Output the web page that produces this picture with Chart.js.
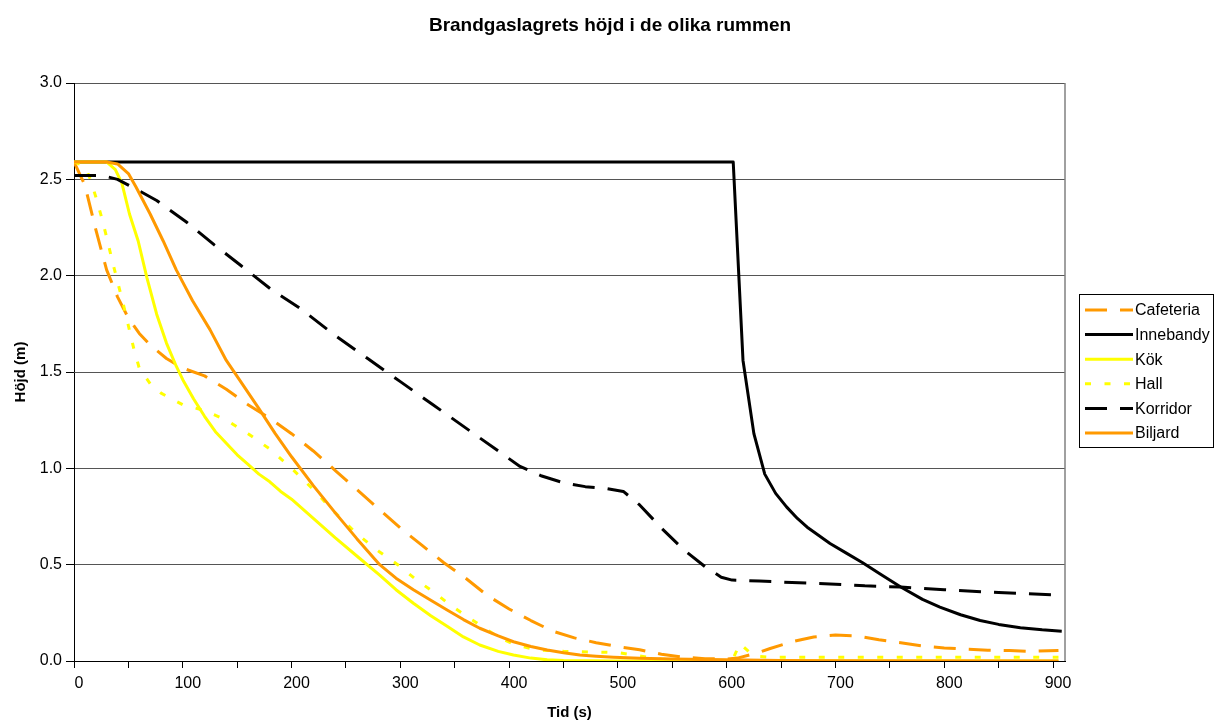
<!DOCTYPE html>
<html>
<head>
<meta charset="utf-8">
<script src="https://cdn.jsdelivr.net/npm/chart.js@4.4.1/dist/chart.umd.min.js"></script>
<style>
html, body { margin: 0; padding: 0; background: #fff; }
#wrap { width: 1217px; height: 722px; }
</style>
</head>
<body>
<div id="wrap"><canvas id="chart" width="1217" height="722"></canvas></div>
<script>
const FONT = "'Liberation Sans', Arial, sans-serif";

// time (s) and smoke layer height (m) per room
const cafeteriaT = [0, 10, 20, 30, 40, 50, 60, 70, 85, 100, 120, 140, 160, 180, 200, 220, 240, 260, 280, 300, 320, 340, 360, 380, 400, 420, 440, 460, 480, 500, 520, 540, 560, 580, 600, 610, 620, 630, 640, 660, 680, 700, 720, 740, 760, 780, 800, 820, 840, 860, 880, 905];
const cafeteriaH = [2.59, 2.47, 2.24, 2.03, 1.89, 1.78, 1.70, 1.64, 1.57, 1.52, 1.48, 1.41, 1.33, 1.26, 1.18, 1.09, 0.99, 0.89, 0.79, 0.69, 0.60, 0.51, 0.43, 0.34, 0.27, 0.21, 0.155, 0.12, 0.095, 0.075, 0.058, 0.035, 0.02, 0.012, 0.01, 0.015, 0.03, 0.045, 0.065, 0.10, 0.125, 0.135, 0.13, 0.11, 0.095, 0.078, 0.068, 0.062, 0.056, 0.054, 0.05, 0.055];

const innebandyT = [0, 600, 606, 615, 625, 635, 645, 655, 665, 675, 685, 695, 710, 725, 740, 760, 780, 796, 815, 833, 850, 870, 890, 908];
const innebandyH = [2.59, 2.59, 2.59, 1.56, 1.18, 0.97, 0.87, 0.80, 0.74, 0.69, 0.65, 0.61, 0.56, 0.51, 0.455, 0.384, 0.32, 0.28, 0.24, 0.21, 0.19, 0.173, 0.162, 0.155];

const kokT = [0, 30, 38, 44, 51, 59, 67, 76, 85, 94, 100, 110, 120, 130, 140, 150, 160, 170, 180, 190, 200, 220, 240, 260, 281, 296, 312, 328, 343, 358, 373, 390, 404, 420, 435, 450, 500, 905];
const kokH = [2.59, 2.59, 2.55, 2.48, 2.32, 2.18, 1.99, 1.80, 1.65, 1.53, 1.46, 1.36, 1.27, 1.19, 1.13, 1.07, 1.02, 0.97, 0.93, 0.88, 0.84, 0.74, 0.64, 0.545, 0.446, 0.37, 0.30, 0.235, 0.18, 0.125, 0.083, 0.05, 0.031, 0.015, 0.006, 0.002, 0, 0];

const hallT = [0, 10, 15, 20, 25, 30, 35, 40, 45, 50, 55, 60, 70, 80, 90, 100, 120, 140, 160, 180, 200, 220, 240, 260, 280, 300, 315, 330, 345, 360, 375, 390, 405, 425, 450, 480, 500, 515, 540, 560, 605, 612, 625, 640, 905];
const hallH = [2.59, 2.57, 2.5, 2.41, 2.31, 2.2, 2.08, 1.97, 1.86, 1.74, 1.62, 1.52, 1.44, 1.39, 1.36, 1.33, 1.30, 1.25, 1.18, 1.10, 1.00, 0.89, 0.77, 0.66, 0.57, 0.49, 0.42, 0.36, 0.295, 0.235, 0.18, 0.125, 0.085, 0.058, 0.05, 0.046, 0.044, 0.03, 0.01, 0.003, 0, 0.09, 0.025, 0.02, 0.02];

const korridorT = [0, 26, 40, 50, 60, 76, 103, 129, 154, 181, 208, 240, 270, 300, 330, 360, 390, 410, 430, 450, 470, 490, 505, 520, 540, 560, 580, 595, 605, 630, 660, 695, 727, 760, 800, 850, 905];
const korridorH = [2.52, 2.52, 2.5, 2.47, 2.44, 2.39, 2.28, 2.16, 2.05, 1.93, 1.83, 1.69, 1.57, 1.45, 1.33, 1.21, 1.09, 1.01, 0.96, 0.925, 0.905, 0.895, 0.88, 0.81, 0.69, 0.58, 0.49, 0.435, 0.42, 0.415, 0.407, 0.40, 0.39, 0.384, 0.37, 0.355, 0.342];

const biljardT = [0, 30, 40, 50, 57, 70, 82, 94, 109, 125, 140, 152, 170, 185, 200, 220, 240, 260, 281, 296, 312, 328, 343, 358, 373, 390, 404, 420, 435, 450, 465, 480, 496, 520, 550, 600, 650, 700, 905];
const biljardH = [2.59, 2.59, 2.58, 2.53, 2.46, 2.32, 2.18, 2.03, 1.87, 1.72, 1.56, 1.46, 1.31, 1.18, 1.06, 0.91, 0.77, 0.635, 0.50, 0.43, 0.37, 0.315, 0.265, 0.215, 0.17, 0.13, 0.10, 0.075, 0.057, 0.043, 0.031, 0.025, 0.02, 0.014, 0.01, 0.006, 0.003, 0.001, 0];

const ORANGE = '#FF9900';
const YELLOW = '#FFFF00';
const BLACK = '#000000';

const series = [
  { label: 'Cafeteria', t: cafeteriaT, h: cafeteriaH, color: ORANGE, dash: [22, 13] },
  { label: 'Innebandy', t: innebandyT, h: innebandyH, color: BLACK, dash: [] },
  { label: 'Kök', t: kokT, h: kokH, color: YELLOW, dash: [] },
  { label: 'Hall', t: hallT, h: hallH, color: YELLOW, dash: [6, 13.5] },
  { label: 'Korridor', t: korridorT, h: korridorH, color: BLACK, dash: [22, 13] },
  { label: 'Biljard', t: biljardT, h: biljardH, color: ORANGE, dash: [] }
];

// later series drawn on top, like the original spreadsheet
const datasets = series.map((s, i) => ({
  label: s.label,
  data: s.t.map((t, k) => ({ x: t, y: s.h[k] })),
  borderColor: s.color,
  borderWidth: 3,
  borderDash: s.dash,
  borderJoinStyle: 'round',
  pointRadius: 0,
  fill: false,
  tension: 0,
  order: series.length - i
}));

const frame = {
  id: 'frame',
  beforeDatasetsDraw(chart) {
    const { ctx, chartArea: a } = chart;
    ctx.save();
    ctx.strokeStyle = '#808080';
    ctx.lineWidth = 1.5;
    ctx.beginPath();
    ctx.moveTo(a.right, a.top);
    ctx.lineTo(a.right, a.bottom);
    ctx.stroke();
    ctx.restore();
  },
  afterDraw(chart) {
    const ctx = chart.ctx;
    ctx.save();
    // title
    ctx.fillStyle = '#000';
    ctx.font = 'bold 19px ' + FONT;
    ctx.textAlign = 'center';
    ctx.textBaseline = 'middle';
    ctx.fillText('Brandgaslagrets höjd i de olika rummen', 610, 26);

    // legend box
    ctx.strokeStyle = '#000';
    ctx.lineWidth = 1;
    ctx.strokeRect(1079.5, 294.5, 134, 153);
    ctx.font = '16px ' + FONT;
    ctx.textAlign = 'left';
    series.forEach((s, i) => {
      const y = 310 + i * 24.6;
      ctx.strokeStyle = s.color;
      ctx.lineWidth = 3;
      ctx.setLineDash(s.dash);
      ctx.beginPath();
      ctx.moveTo(1085, y);
      ctx.lineTo(1133, y);
      ctx.stroke();
      ctx.setLineDash([]);
      ctx.fillStyle = '#000';
      ctx.fillText(s.label, 1135, y + 1);
    });
    ctx.restore();
  }
};

new Chart(document.getElementById('chart'), {
  type: 'line',
  data: { datasets },
  plugins: [frame],
  options: {
    responsive: false,
    animation: false,
    layout: { padding: { left: 0, right: 152, top: 83, bottom: 0 } },
    plugins: { legend: { display: false }, title: { display: false }, tooltip: { enabled: false } },
    scales: {
      x: {
        type: 'linear',
        min: 0,
        max: 911,
        ticks: {
          stepSize: 50,
          includeBounds: false,
          autoSkip: false,
          maxRotation: 0,
          labelOffset: 5,
          padding: 6,
          color: '#000',
          font: { family: FONT, size: 16 },
          callback: v => (v % 100 === 0 ? String(v) : '')
        },
        grid: { drawOnChartArea: false, drawTicks: true, tickLength: 7, color: '#000' },
        border: { display: true, color: '#000', width: 1 },
        title: { display: true, text: 'Tid (s)', color: '#000', font: { family: FONT, size: 15, weight: 'bold' }, padding: { top: 0, bottom: 0 } },
        afterFit: s => { s.height = 61; }
      },
      y: {
        min: 0,
        max: 3,
        ticks: {
          stepSize: 0.5,
          padding: 4,
          color: '#000',
          font: { family: FONT, size: 16 },
          callback: v => v.toFixed(1)
        },
        grid: { color: '#555', tickColor: '#000', tickLength: 8, lineWidth: 1 },
        border: { display: true, color: '#000', width: 1 },
        title: { display: true, text: 'Höjd (m)', color: '#000', font: { family: FONT, size: 15, weight: 'bold' }, padding: { top: 12, bottom: 0 } },
        afterFit: s => { s.width = 74; }
      }
    }
  }
});
</script>
</body>
</html>
